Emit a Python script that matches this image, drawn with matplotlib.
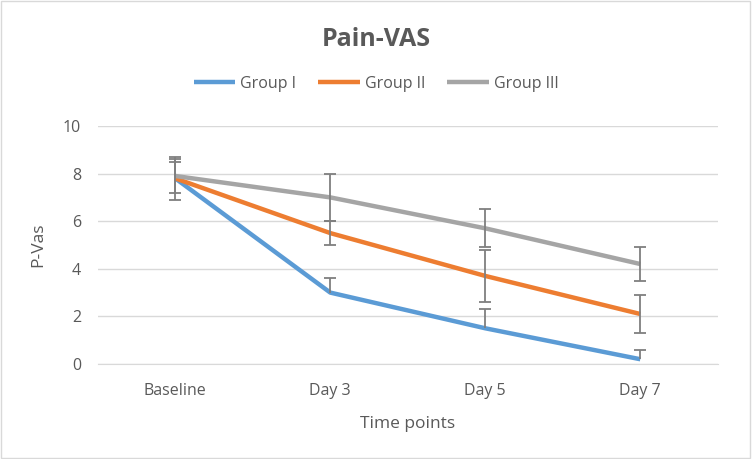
from matplotlib import pyplot as plt
from matplotlib.patches import Rectangle
import numpy as np

categories = ["Baseline", "Day 3", "Day 5", "Day 7"]
groups = ["Group I", "Group II", "Group III"]
colors = ["#5B9BD5", "#ED7D31", "#A5A5A5"]

means = [
    [7.8, 3.0, 1.5, 0.2],
    [7.8, 5.5, 3.7, 2.1],
    [7.9, 7.0, 5.7, 4.2],
]
err_low = [
    [0.0, 0.0, 0.0, 0.0],
    [0.9, 0.5, 1.1, 0.8],
    [0.7, 1.0, 0.8, 0.7],
]
err_high = [
    [0.7, 0.6, 0.8, 0.4],
    [0.9, 0.5, 1.1, 0.8],
    [0.7, 1.0, 0.8, 0.7],
]
yticks = [0, 2, 4, 6, 8, 10]

plt.rcParams["font.family"] = ["Open Sans", "DejaVu Sans"]
text_color = "#595959"

fig = plt.figure(figsize=(7.52, 4.59), dpi=100)
ax = fig.add_axes([0.130, 0.207, 0.8245, 0.5185])

x = np.arange(len(categories))
for i in range(len(groups)):
    ax.plot(x, means[i], color=colors[i], lw=3.2, label=groups[i],
            solid_capstyle="butt", zorder=3)
for i in range(len(groups)):
    eb = ax.errorbar(x, means[i], yerr=[err_low[i], err_high[i]], fmt="none",
                     ecolor="#7F7F7F", elinewidth=1.3, capsize=4, capthick=1.3, zorder=4)
    # plus-only bars: drop the lower caps
    if max(err_low[i]) == 0:
        eb[1][0].set_visible(False)

ax.set_xlim(-0.5, 3.5)
ax.set_ylim(0, 10)
ax.set_yticks(yticks)
ax.set_xticks(x)
ax.set_xticklabels(categories)
ax.grid(axis="y", color="#D9D9D9", lw=1)
ax.set_axisbelow(True)
for s in ["top", "right", "left"]:
    ax.spines[s].set_visible(False)
ax.spines["bottom"].set_color("#D9D9D9")
ax.tick_params(length=0, colors=text_color, labelsize=11.5)
ax.tick_params(axis="y", pad=12)
ax.tick_params(axis="x", pad=14)

ax.set_ylabel("P-Vas", color=text_color, fontsize=12.5, labelpad=12)
ax.set_xlabel("Time points", color=text_color, fontsize=12.5, labelpad=12)

fig.text(0.5, 0.913, "Pain-VAS", ha="center", va="center", fontsize=18,
         fontweight="bold", color=text_color)
leg = fig.legend(loc="center", bbox_to_anchor=(0.5, 0.817), ncol=3, frameon=False,
                 fontsize=11.5, handlelength=2.6, columnspacing=1.4, handletextpad=0.3)
for t in leg.get_texts():
    t.set_color(text_color)

fig.patches.append(Rectangle((0.001, 0.002), 0.997, 0.995, transform=fig.transFigure,
                             fill=False, edgecolor="#D9D9D9", lw=1))

fig.savefig("out.png", dpi=100)
